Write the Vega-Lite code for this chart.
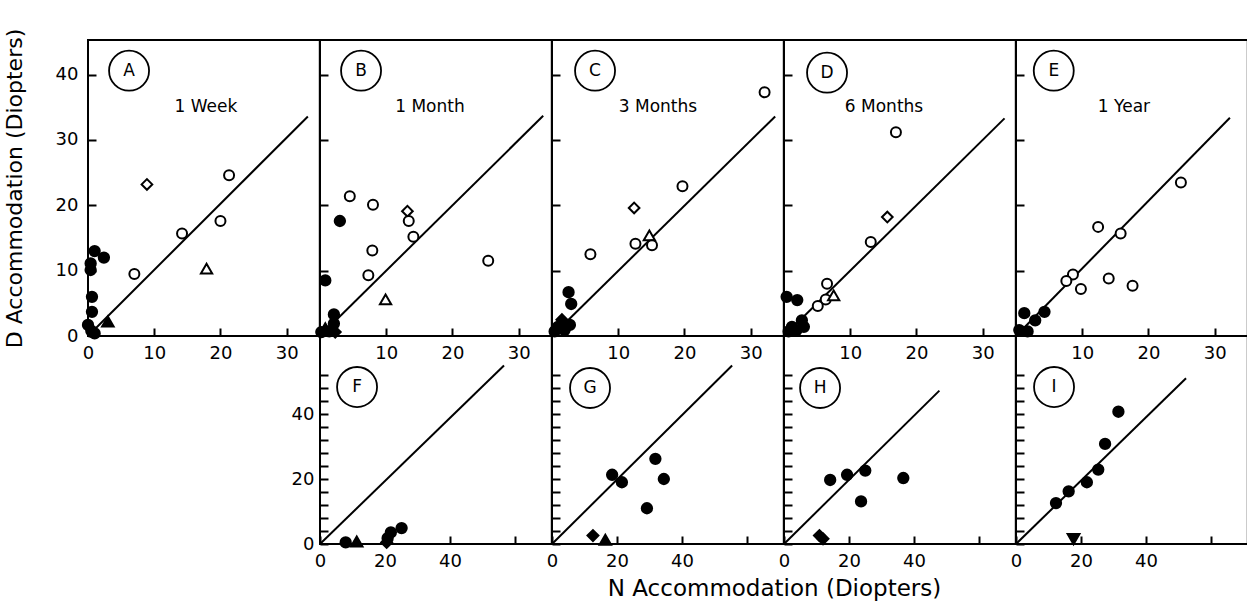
{
  "$schema": "https://vega.github.io/schema/vega-lite/v6.json",
  "background": "white",
  "padding": {"left": 1, "top": 27, "right": 0, "bottom": 0},
  "datasets": {
    "all": [
      {"panel":"A","kind":"line","n":0,"d":0},{"panel":"A","kind":"line","n":33.2,"d":33.6},
      {"panel":"A","kind":"letter","text":"A","n":6.2,"d":40.6},{"panel":"A","kind":"title","text":"1 Week","n":17.8,"d":35.0},
      {"panel":"A","kind":"point","sym":"open diamond","n":8.9,"d":23.2},
      {"panel":"A","kind":"point","sym":"open circle","n":21.3,"d":24.6},
      {"panel":"A","kind":"point","sym":"open circle","n":20.0,"d":17.6},
      {"panel":"A","kind":"point","sym":"open circle","n":14.2,"d":15.7},
      {"panel":"A","kind":"point","sym":"open circle","n":7.0,"d":9.5},
      {"panel":"A","kind":"point","sym":"open triangle","n":17.9,"d":10.3},
      {"panel":"A","kind":"point","sym":"filled triangle","n":3.0,"d":2.2},
      {"panel":"A","kind":"point","sym":"filled circle","n":1.0,"d":13.0},
      {"panel":"A","kind":"point","sym":"filled circle","n":2.4,"d":12.0},
      {"panel":"A","kind":"point","sym":"filled circle","n":0.4,"d":11.1},
      {"panel":"A","kind":"point","sym":"filled circle","n":0.4,"d":10.1},
      {"panel":"A","kind":"point","sym":"filled circle","n":0.6,"d":6.0},
      {"panel":"A","kind":"point","sym":"filled circle","n":0.6,"d":3.7},
      {"panel":"A","kind":"point","sym":"filled circle","n":0.0,"d":1.7},
      {"panel":"A","kind":"point","sym":"filled circle","n":0.5,"d":0.8},
      {"panel":"A","kind":"point","sym":"filled circle","n":1.0,"d":0.4},

      {"panel":"B","kind":"line","n":0,"d":0},{"panel":"B","kind":"line","n":33.7,"d":33.7},
      {"panel":"B","kind":"letter","text":"B","n":6.2,"d":40.6},{"panel":"B","kind":"title","text":"1 Month","n":16.6,"d":35.0},
      {"panel":"B","kind":"point","sym":"open circle","n":4.5,"d":21.4},
      {"panel":"B","kind":"point","sym":"open circle","n":8.0,"d":20.1},
      {"panel":"B","kind":"point","sym":"filled circle","n":3.0,"d":17.6},
      {"panel":"B","kind":"point","sym":"open diamond","n":13.2,"d":19.1},
      {"panel":"B","kind":"point","sym":"open circle","n":13.4,"d":17.6},
      {"panel":"B","kind":"point","sym":"open circle","n":14.1,"d":15.2},
      {"panel":"B","kind":"point","sym":"open circle","n":7.9,"d":13.1},
      {"panel":"B","kind":"point","sym":"open circle","n":7.3,"d":9.3},
      {"panel":"B","kind":"point","sym":"open circle","n":25.4,"d":11.5},
      {"panel":"B","kind":"point","sym":"open triangle","n":9.9,"d":5.6},
      {"panel":"B","kind":"point","sym":"filled circle","n":0.8,"d":8.5},
      {"panel":"B","kind":"point","sym":"filled circle","n":2.1,"d":3.3},
      {"panel":"B","kind":"point","sym":"filled circle","n":2.1,"d":1.9},
      {"panel":"B","kind":"point","sym":"filled circle","n":1.4,"d":0.7},
      {"panel":"B","kind":"point","sym":"filled circle","n":0.2,"d":0.6},
      {"panel":"B","kind":"point","sym":"filled triangle","n":0.8,"d":1.2},
      {"panel":"B","kind":"point","sym":"filled diamond","n":2.3,"d":0.6},

      {"panel":"C","kind":"line","n":0,"d":0},{"panel":"C","kind":"line","n":33.7,"d":33.6},
      {"panel":"C","kind":"letter","text":"C","n":6.5,"d":40.6},{"panel":"C","kind":"title","text":"3 Months","n":16.0,"d":35.0},
      {"panel":"C","kind":"point","sym":"open circle","n":32.1,"d":37.3},
      {"panel":"C","kind":"point","sym":"open circle","n":19.7,"d":22.9},
      {"panel":"C","kind":"point","sym":"open diamond","n":12.4,"d":19.6},
      {"panel":"C","kind":"point","sym":"open triangle","n":14.7,"d":15.4},
      {"panel":"C","kind":"point","sym":"open circle","n":12.6,"d":14.1},
      {"panel":"C","kind":"point","sym":"open circle","n":15.1,"d":13.9},
      {"panel":"C","kind":"point","sym":"open circle","n":5.8,"d":12.5},
      {"panel":"C","kind":"point","sym":"filled circle","n":2.5,"d":6.7},
      {"panel":"C","kind":"point","sym":"filled circle","n":2.9,"d":4.9},
      {"panel":"C","kind":"point","sym":"filled diamond","n":1.5,"d":2.5},
      {"panel":"C","kind":"point","sym":"filled circle","n":2.7,"d":1.7},
      {"panel":"C","kind":"point","sym":"filled circle","n":0.9,"d":1.4},
      {"panel":"C","kind":"point","sym":"filled circle","n":0.4,"d":0.7},
      {"panel":"C","kind":"point","sym":"filled circle","n":1.9,"d":0.9},

      {"panel":"D","kind":"line","n":0,"d":0},{"panel":"D","kind":"line","n":33.3,"d":33.3},
      {"panel":"D","kind":"letter","text":"D","n":6.5,"d":40.3},{"panel":"D","kind":"title","text":"6 Months","n":15.1,"d":35.0},
      {"panel":"D","kind":"point","sym":"open circle","n":16.9,"d":31.2},
      {"panel":"D","kind":"point","sym":"open diamond","n":15.6,"d":18.2},
      {"panel":"D","kind":"point","sym":"open circle","n":13.1,"d":14.4},
      {"panel":"D","kind":"point","sym":"open circle","n":6.5,"d":8.0},
      {"panel":"D","kind":"point","sym":"open circle","n":6.3,"d":5.6},
      {"panel":"D","kind":"point","sym":"open triangle","n":7.5,"d":6.2},
      {"panel":"D","kind":"point","sym":"open circle","n":5.1,"d":4.6},
      {"panel":"D","kind":"point","sym":"filled circle","n":0.4,"d":6.0},
      {"panel":"D","kind":"point","sym":"filled circle","n":2.0,"d":5.5},
      {"panel":"D","kind":"point","sym":"filled circle","n":2.7,"d":2.4},
      {"panel":"D","kind":"point","sym":"filled circle","n":3.0,"d":1.4},
      {"panel":"D","kind":"point","sym":"filled circle","n":1.2,"d":1.4},
      {"panel":"D","kind":"point","sym":"filled circle","n":0.7,"d":0.7},
      {"panel":"D","kind":"point","sym":"filled circle","n":1.9,"d":0.9},

      {"panel":"E","kind":"line","n":0,"d":0},{"panel":"E","kind":"line","n":32.3,"d":33.4},
      {"panel":"E","kind":"letter","text":"E","n":5.7,"d":40.6},{"panel":"E","kind":"title","text":"1 Year","n":16.3,"d":35.0},
      {"panel":"E","kind":"point","sym":"open circle","n":24.9,"d":23.5},
      {"panel":"E","kind":"point","sym":"open circle","n":12.4,"d":16.7},
      {"panel":"E","kind":"point","sym":"open circle","n":15.8,"d":15.7},
      {"panel":"E","kind":"point","sym":"open circle","n":8.6,"d":9.4},
      {"panel":"E","kind":"point","sym":"open circle","n":7.6,"d":8.4},
      {"panel":"E","kind":"point","sym":"open circle","n":9.8,"d":7.2},
      {"panel":"E","kind":"point","sym":"open circle","n":14.0,"d":8.8},
      {"panel":"E","kind":"point","sym":"open circle","n":17.6,"d":7.7},
      {"panel":"E","kind":"point","sym":"filled circle","n":1.25,"d":3.5},
      {"panel":"E","kind":"point","sym":"filled circle","n":4.3,"d":3.7},
      {"panel":"E","kind":"point","sym":"filled circle","n":2.9,"d":2.4},
      {"panel":"E","kind":"point","sym":"filled circle","n":0.5,"d":0.9},
      {"panel":"E","kind":"point","sym":"filled circle","n":1.75,"d":0.7},

      {"panel":"F","kind":"line","n":0,"d":0},{"panel":"F","kind":"line","n":56.6,"d":54.9},
      {"panel":"F","kind":"letter","text":"F","n":11.4,"d":48.3},
      {"panel":"F","kind":"point","sym":"filled circle","n":7.9,"d":0.5},
      {"panel":"F","kind":"point","sym":"filled triangle","n":11.3,"d":0.8},
      {"panel":"F","kind":"point","sym":"filled circle","n":21.8,"d":3.6},
      {"panel":"F","kind":"point","sym":"filled circle","n":25.1,"d":4.9},
      {"panel":"F","kind":"point","sym":"filled diamond","n":20.5,"d":0.5},
      {"panel":"F","kind":"point","sym":"filled circle","n":20.8,"d":1.8},

      {"panel":"G","kind":"line","n":0,"d":0},{"panel":"G","kind":"line","n":55.4,"d":54.9},
      {"panel":"G","kind":"letter","text":"G","n":11.7,"d":48.0},
      {"panel":"G","kind":"point","sym":"filled circle","n":18.5,"d":21.3},
      {"panel":"G","kind":"point","sym":"filled circle","n":21.5,"d":19.0},
      {"panel":"G","kind":"point","sym":"filled circle","n":31.8,"d":26.2},
      {"panel":"G","kind":"point","sym":"filled circle","n":34.4,"d":20.0},
      {"panel":"G","kind":"point","sym":"filled circle","n":29.2,"d":11.0},
      {"panel":"G","kind":"point","sym":"filled diamond","n":12.6,"d":2.6},
      {"panel":"G","kind":"point","sym":"filled triangle","n":16.4,"d":1.3},

      {"panel":"H","kind":"line","n":0,"d":0},{"panel":"H","kind":"line","n":47.8,"d":47.2},
      {"panel":"H","kind":"letter","text":"H","n":11.1,"d":48.0},
      {"panel":"H","kind":"point","sym":"filled circle","n":14.2,"d":19.7},
      {"panel":"H","kind":"point","sym":"filled circle","n":19.4,"d":21.3},
      {"panel":"H","kind":"point","sym":"filled circle","n":25.0,"d":22.6},
      {"panel":"H","kind":"point","sym":"filled circle","n":36.7,"d":20.3},
      {"panel":"H","kind":"point","sym":"filled circle","n":23.7,"d":13.1},
      {"panel":"H","kind":"point","sym":"filled diamond","n":10.9,"d":2.6},
      {"panel":"H","kind":"point","sym":"filled diamond","n":12.0,"d":1.6},

      {"panel":"I","kind":"line","n":0,"d":0},{"panel":"I","kind":"line","n":52.3,"d":51.0},
      {"panel":"I","kind":"letter","text":"I","n":11.7,"d":48.3},
      {"panel":"I","kind":"point","sym":"filled circle","n":12.3,"d":12.6},
      {"panel":"I","kind":"point","sym":"filled circle","n":16.2,"d":16.2},
      {"panel":"I","kind":"point","sym":"filled circle","n":21.8,"d":19.0},
      {"panel":"I","kind":"point","sym":"filled circle","n":25.3,"d":22.9},
      {"panel":"I","kind":"point","sym":"filled circle","n":27.4,"d":30.8},
      {"panel":"I","kind":"point","sym":"filled circle","n":31.5,"d":40.7},
      {"panel":"I","kind":"point","sym":"filled inverted triangle","n":17.7,"d":1.5}
    ]
  },
  "columns": 5,
  "spacing": 0,
  "bounds": "flush",
  "align": "each",
  "concat": [
    {
      "width": 231.8, "height": 296,
      "data": {"name": "all"},
      "transform": [{"filter": "datum.panel === 'A'"}],
      "encoding": {
        "x": {"field": "n", "type": "quantitative", "scale": {"domain": [0, 35], "nice": false, "zero": false}, "axis": {"values": [0, 10, 20, 30], "labelPadding": 16, "title": null}},
        "y": {"field": "d", "type": "quantitative", "scale": {"domain": [0, 45.3], "nice": false, "zero": false}, "axis": {"values": [0, 10, 20, 30, 40], "labelPadding": 18, "title": "D Accommodation (Diopters)", "titleFontSize": 22, "titleX": -62}}
      },
      "layer": [
        {"transform": [{"filter": "datum.kind === 'line'"}], "mark": {"type": "line", "color": "black", "strokeWidth": 2}, "encoding": {}},
        {"transform": [{"filter": "datum.kind === 'point'"}], "mark": {"type": "point", "filled": true, "opacity": 1, "stroke": "black", "strokeWidth": 2},
         "encoding": {
           "shape": {"field": "sym", "type": "nominal", "legend": null, "scale": {"domain": ["open circle","filled circle","open diamond","filled diamond","open triangle","filled triangle","filled inverted triangle"], "range": ["circle","circle","diamond","diamond","triangle-up","triangle-up","triangle-down"]}},
           "fill": {"field": "sym", "type": "nominal", "legend": null, "scale": {"domain": ["open circle","filled circle","open diamond","filled diamond","open triangle","filled triangle","filled inverted triangle"], "range": ["white","black","white","black","white","black","black"]}},
           "size": {"field": "sym", "type": "nominal", "legend": null, "scale": {"domain": ["open circle","filled circle","open diamond","filled diamond","open triangle","filled triangle","filled inverted triangle"], "range": [100,140,120,160,120,160,170]}}
         }},
        {"transform": [{"filter": "datum.kind === 'letter'"}], "mark": {"type": "point", "shape": "circle", "size": 1600, "filled": false, "opacity": 1, "stroke": "black", "strokeWidth": 1.8}, "encoding": {}},
        {"transform": [{"filter": "datum.kind === 'letter' || datum.kind === 'title'"}], "mark": {"type": "text", "font": "DejaVu Sans", "fontSize": 17, "color": "black", "align": "center", "baseline": "middle"}, "encoding": {"text": {"field": "text"}}}
      ]
    },
    {
      "width": 231.8, "height": 296,
      "data": {"name": "all"},
      "transform": [{"filter": "datum.panel === 'B'"}],
      "encoding": {
        "x": {"field": "n", "type": "quantitative", "scale": {"domain": [0, 35], "nice": false, "zero": false}, "axis": {"values": [10, 20, 30], "labelPadding": 16, "title": null}},
        "y": {"field": "d", "type": "quantitative", "scale": {"domain": [0, 45.3], "nice": false, "zero": false}, "axis": {"values": [10, 20, 30, 40], "labels": false, "title": null}}
      },
      "layer": [
        {"transform": [{"filter": "datum.kind === 'line'"}], "mark": {"type": "line", "color": "black", "strokeWidth": 2}, "encoding": {}},
        {"transform": [{"filter": "datum.kind === 'point'"}], "mark": {"type": "point", "filled": true, "opacity": 1, "stroke": "black", "strokeWidth": 2},
         "encoding": {
           "shape": {"field": "sym", "type": "nominal", "legend": null, "scale": {"domain": ["open circle","filled circle","open diamond","filled diamond","open triangle","filled triangle","filled inverted triangle"], "range": ["circle","circle","diamond","diamond","triangle-up","triangle-up","triangle-down"]}},
           "fill": {"field": "sym", "type": "nominal", "legend": null, "scale": {"domain": ["open circle","filled circle","open diamond","filled diamond","open triangle","filled triangle","filled inverted triangle"], "range": ["white","black","white","black","white","black","black"]}},
           "size": {"field": "sym", "type": "nominal", "legend": null, "scale": {"domain": ["open circle","filled circle","open diamond","filled diamond","open triangle","filled triangle","filled inverted triangle"], "range": [100,140,120,160,120,160,170]}}
         }},
        {"transform": [{"filter": "datum.kind === 'letter'"}], "mark": {"type": "point", "shape": "circle", "size": 1600, "filled": false, "opacity": 1, "stroke": "black", "strokeWidth": 1.8}, "encoding": {}},
        {"transform": [{"filter": "datum.kind === 'letter' || datum.kind === 'title'"}], "mark": {"type": "text", "font": "DejaVu Sans", "fontSize": 17, "color": "black", "align": "center", "baseline": "middle"}, "encoding": {"text": {"field": "text"}}}
      ]
    },
    {
      "width": 231.8, "height": 296,
      "data": {"name": "all"},
      "transform": [{"filter": "datum.panel === 'C'"}],
      "encoding": {
        "x": {"field": "n", "type": "quantitative", "scale": {"domain": [0, 35], "nice": false, "zero": false}, "axis": {"values": [10, 20, 30], "labelPadding": 16, "title": null}},
        "y": {"field": "d", "type": "quantitative", "scale": {"domain": [0, 45.3], "nice": false, "zero": false}, "axis": {"values": [10, 20, 30, 40], "labels": false, "title": null}}
      },
      "layer": [
        {"transform": [{"filter": "datum.kind === 'line'"}], "mark": {"type": "line", "color": "black", "strokeWidth": 2}, "encoding": {}},
        {"transform": [{"filter": "datum.kind === 'point'"}], "mark": {"type": "point", "filled": true, "opacity": 1, "stroke": "black", "strokeWidth": 2},
         "encoding": {
           "shape": {"field": "sym", "type": "nominal", "legend": null, "scale": {"domain": ["open circle","filled circle","open diamond","filled diamond","open triangle","filled triangle","filled inverted triangle"], "range": ["circle","circle","diamond","diamond","triangle-up","triangle-up","triangle-down"]}},
           "fill": {"field": "sym", "type": "nominal", "legend": null, "scale": {"domain": ["open circle","filled circle","open diamond","filled diamond","open triangle","filled triangle","filled inverted triangle"], "range": ["white","black","white","black","white","black","black"]}},
           "size": {"field": "sym", "type": "nominal", "legend": null, "scale": {"domain": ["open circle","filled circle","open diamond","filled diamond","open triangle","filled triangle","filled inverted triangle"], "range": [100,140,120,160,120,160,170]}}
         }},
        {"transform": [{"filter": "datum.kind === 'letter'"}], "mark": {"type": "point", "shape": "circle", "size": 1600, "filled": false, "opacity": 1, "stroke": "black", "strokeWidth": 1.8}, "encoding": {}},
        {"transform": [{"filter": "datum.kind === 'letter' || datum.kind === 'title'"}], "mark": {"type": "text", "font": "DejaVu Sans", "fontSize": 17, "color": "black", "align": "center", "baseline": "middle"}, "encoding": {"text": {"field": "text"}}}
      ]
    },
    {
      "width": 231.8, "height": 296,
      "data": {"name": "all"},
      "transform": [{"filter": "datum.panel === 'D'"}],
      "encoding": {
        "x": {"field": "n", "type": "quantitative", "scale": {"domain": [0, 35], "nice": false, "zero": false}, "axis": {"values": [10, 20, 30], "labelPadding": 16, "title": null}},
        "y": {"field": "d", "type": "quantitative", "scale": {"domain": [0, 45.3], "nice": false, "zero": false}, "axis": {"values": [10, 20, 30, 40], "labels": false, "title": null}}
      },
      "layer": [
        {"transform": [{"filter": "datum.kind === 'line'"}], "mark": {"type": "line", "color": "black", "strokeWidth": 2}, "encoding": {}},
        {"transform": [{"filter": "datum.kind === 'point'"}], "mark": {"type": "point", "filled": true, "opacity": 1, "stroke": "black", "strokeWidth": 2},
         "encoding": {
           "shape": {"field": "sym", "type": "nominal", "legend": null, "scale": {"domain": ["open circle","filled circle","open diamond","filled diamond","open triangle","filled triangle","filled inverted triangle"], "range": ["circle","circle","diamond","diamond","triangle-up","triangle-up","triangle-down"]}},
           "fill": {"field": "sym", "type": "nominal", "legend": null, "scale": {"domain": ["open circle","filled circle","open diamond","filled diamond","open triangle","filled triangle","filled inverted triangle"], "range": ["white","black","white","black","white","black","black"]}},
           "size": {"field": "sym", "type": "nominal", "legend": null, "scale": {"domain": ["open circle","filled circle","open diamond","filled diamond","open triangle","filled triangle","filled inverted triangle"], "range": [100,140,120,160,120,160,170]}}
         }},
        {"transform": [{"filter": "datum.kind === 'letter'"}], "mark": {"type": "point", "shape": "circle", "size": 1600, "filled": false, "opacity": 1, "stroke": "black", "strokeWidth": 1.8}, "encoding": {}},
        {"transform": [{"filter": "datum.kind === 'letter' || datum.kind === 'title'"}], "mark": {"type": "text", "font": "DejaVu Sans", "fontSize": 17, "color": "black", "align": "center", "baseline": "middle"}, "encoding": {"text": {"field": "text"}}}
      ]
    },
    {
      "width": 231.8, "height": 296,
      "data": {"name": "all"},
      "transform": [{"filter": "datum.panel === 'E'"}],
      "encoding": {
        "x": {"field": "n", "type": "quantitative", "scale": {"domain": [0, 35], "nice": false, "zero": false}, "axis": {"values": [10, 20, 30], "labelPadding": 16, "title": null}},
        "y": {"field": "d", "type": "quantitative", "scale": {"domain": [0, 45.3], "nice": false, "zero": false}, "axis": {"values": [10, 20, 30, 40], "labels": false, "title": null}}
      },
      "layer": [
        {"transform": [{"filter": "datum.kind === 'line'"}], "mark": {"type": "line", "color": "black", "strokeWidth": 2}, "encoding": {}},
        {"transform": [{"filter": "datum.kind === 'point'"}], "mark": {"type": "point", "filled": true, "opacity": 1, "stroke": "black", "strokeWidth": 2},
         "encoding": {
           "shape": {"field": "sym", "type": "nominal", "legend": null, "scale": {"domain": ["open circle","filled circle","open diamond","filled diamond","open triangle","filled triangle","filled inverted triangle"], "range": ["circle","circle","diamond","diamond","triangle-up","triangle-up","triangle-down"]}},
           "fill": {"field": "sym", "type": "nominal", "legend": null, "scale": {"domain": ["open circle","filled circle","open diamond","filled diamond","open triangle","filled triangle","filled inverted triangle"], "range": ["white","black","white","black","white","black","black"]}},
           "size": {"field": "sym", "type": "nominal", "legend": null, "scale": {"domain": ["open circle","filled circle","open diamond","filled diamond","open triangle","filled triangle","filled inverted triangle"], "range": [100,140,120,160,120,160,170]}}
         }},
        {"transform": [{"filter": "datum.kind === 'letter'"}], "mark": {"type": "point", "shape": "circle", "size": 1600, "filled": false, "opacity": 1, "stroke": "black", "strokeWidth": 1.8}, "encoding": {}},
        {"transform": [{"filter": "datum.kind === 'letter' || datum.kind === 'title'"}], "mark": {"type": "text", "font": "DejaVu Sans", "fontSize": 17, "color": "black", "align": "center", "baseline": "middle"}, "encoding": {"text": {"field": "text"}}}
      ]
    },
    {
      "width": 231.8, "height": 208,
      "view": {"stroke": null},
      "data": {"name": "all"},
      "transform": [{"filter": "false"}],
      "mark": "point"
    },
    {
      "width": 231.8, "height": 208,
      "data": {"name": "all"},
      "transform": [{"filter": "datum.panel === 'F'"}],
      "encoding": {
        "x": {"field": "n", "type": "quantitative", "scale": {"domain": [0, 71.3], "nice": false, "zero": false}, "axis": {"values": [0, 20, 40, 60], "labelExpr": "datum.value === 60 ? '' : datum.label", "labelPadding": 16, "title": null}},
        "y": {"field": "d", "type": "quantitative", "scale": {"domain": [0, 64], "nice": false, "zero": false}, "axis": {"values": [0,4,8,12,16,20,24,28,32,36,40,44,48,52], "labelExpr": "datum.value % 20 === 0 ? datum.label : ''", "labelPadding": 14, "title": null}}
      },
      "layer": [
        {"transform": [{"filter": "datum.kind === 'line'"}], "mark": {"type": "line", "color": "black", "strokeWidth": 2}, "encoding": {}},
        {"transform": [{"filter": "datum.kind === 'point'"}], "mark": {"type": "point", "filled": true, "opacity": 1, "stroke": "black", "strokeWidth": 2},
         "encoding": {
           "shape": {"field": "sym", "type": "nominal", "legend": null, "scale": {"domain": ["open circle","filled circle","open diamond","filled diamond","open triangle","filled triangle","filled inverted triangle"], "range": ["circle","circle","diamond","diamond","triangle-up","triangle-up","triangle-down"]}},
           "fill": {"field": "sym", "type": "nominal", "legend": null, "scale": {"domain": ["open circle","filled circle","open diamond","filled diamond","open triangle","filled triangle","filled inverted triangle"], "range": ["white","black","white","black","white","black","black"]}},
           "size": {"field": "sym", "type": "nominal", "legend": null, "scale": {"domain": ["open circle","filled circle","open diamond","filled diamond","open triangle","filled triangle","filled inverted triangle"], "range": [100,140,120,160,120,160,170]}}
         }},
        {"transform": [{"filter": "datum.kind === 'letter'"}], "mark": {"type": "point", "shape": "circle", "size": 1600, "filled": false, "opacity": 1, "stroke": "black", "strokeWidth": 1.8}, "encoding": {}},
        {"transform": [{"filter": "datum.kind === 'letter' || datum.kind === 'title'"}], "mark": {"type": "text", "font": "DejaVu Sans", "fontSize": 17, "color": "black", "align": "center", "baseline": "middle"}, "encoding": {"text": {"field": "text"}}}
      ]
    },
    {
      "width": 231.8, "height": 208,
      "data": {"name": "all"},
      "transform": [{"filter": "datum.panel === 'G'"}],
      "encoding": {
        "x": {"field": "n", "type": "quantitative", "scale": {"domain": [0, 71.3], "nice": false, "zero": false}, "axis": {"values": [0, 20, 40, 60], "labelExpr": "datum.value === 60 ? '' : datum.label", "labelPadding": 16, "title": "N Accommodation (Diopters)", "titleFontSize": 23, "titleX": 222, "titleY": 33, "titleBaseline": "top"}},
        "y": {"field": "d", "type": "quantitative", "scale": {"domain": [0, 64], "nice": false, "zero": false}, "axis": {"values": [0,4,8,12,16,20,24,28,32,36,40,44,48,52], "labels": false, "title": null}}
      },
      "layer": [
        {"transform": [{"filter": "datum.kind === 'line'"}], "mark": {"type": "line", "color": "black", "strokeWidth": 2}, "encoding": {}},
        {"transform": [{"filter": "datum.kind === 'point'"}], "mark": {"type": "point", "filled": true, "opacity": 1, "stroke": "black", "strokeWidth": 2},
         "encoding": {
           "shape": {"field": "sym", "type": "nominal", "legend": null, "scale": {"domain": ["open circle","filled circle","open diamond","filled diamond","open triangle","filled triangle","filled inverted triangle"], "range": ["circle","circle","diamond","diamond","triangle-up","triangle-up","triangle-down"]}},
           "fill": {"field": "sym", "type": "nominal", "legend": null, "scale": {"domain": ["open circle","filled circle","open diamond","filled diamond","open triangle","filled triangle","filled inverted triangle"], "range": ["white","black","white","black","white","black","black"]}},
           "size": {"field": "sym", "type": "nominal", "legend": null, "scale": {"domain": ["open circle","filled circle","open diamond","filled diamond","open triangle","filled triangle","filled inverted triangle"], "range": [100,140,120,160,120,160,170]}}
         }},
        {"transform": [{"filter": "datum.kind === 'letter'"}], "mark": {"type": "point", "shape": "circle", "size": 1600, "filled": false, "opacity": 1, "stroke": "black", "strokeWidth": 1.8}, "encoding": {}},
        {"transform": [{"filter": "datum.kind === 'letter' || datum.kind === 'title'"}], "mark": {"type": "text", "font": "DejaVu Sans", "fontSize": 17, "color": "black", "align": "center", "baseline": "middle"}, "encoding": {"text": {"field": "text"}}}
      ]
    },
    {
      "width": 231.8, "height": 208,
      "data": {"name": "all"},
      "transform": [{"filter": "datum.panel === 'H'"}],
      "encoding": {
        "x": {"field": "n", "type": "quantitative", "scale": {"domain": [0, 71.3], "nice": false, "zero": false}, "axis": {"values": [0, 20, 40, 60], "labelExpr": "datum.value === 60 ? '' : datum.label", "labelPadding": 16, "title": null}},
        "y": {"field": "d", "type": "quantitative", "scale": {"domain": [0, 64], "nice": false, "zero": false}, "axis": {"values": [0,4,8,12,16,20,24,28,32,36,40,44,48,52], "labels": false, "title": null}}
      },
      "layer": [
        {"transform": [{"filter": "datum.kind === 'line'"}], "mark": {"type": "line", "color": "black", "strokeWidth": 2}, "encoding": {}},
        {"transform": [{"filter": "datum.kind === 'point'"}], "mark": {"type": "point", "filled": true, "opacity": 1, "stroke": "black", "strokeWidth": 2},
         "encoding": {
           "shape": {"field": "sym", "type": "nominal", "legend": null, "scale": {"domain": ["open circle","filled circle","open diamond","filled diamond","open triangle","filled triangle","filled inverted triangle"], "range": ["circle","circle","diamond","diamond","triangle-up","triangle-up","triangle-down"]}},
           "fill": {"field": "sym", "type": "nominal", "legend": null, "scale": {"domain": ["open circle","filled circle","open diamond","filled diamond","open triangle","filled triangle","filled inverted triangle"], "range": ["white","black","white","black","white","black","black"]}},
           "size": {"field": "sym", "type": "nominal", "legend": null, "scale": {"domain": ["open circle","filled circle","open diamond","filled diamond","open triangle","filled triangle","filled inverted triangle"], "range": [100,140,120,160,120,160,170]}}
         }},
        {"transform": [{"filter": "datum.kind === 'letter'"}], "mark": {"type": "point", "shape": "circle", "size": 1600, "filled": false, "opacity": 1, "stroke": "black", "strokeWidth": 1.8}, "encoding": {}},
        {"transform": [{"filter": "datum.kind === 'letter' || datum.kind === 'title'"}], "mark": {"type": "text", "font": "DejaVu Sans", "fontSize": 17, "color": "black", "align": "center", "baseline": "middle"}, "encoding": {"text": {"field": "text"}}}
      ]
    },
    {
      "width": 231.8, "height": 208,
      "data": {"name": "all"},
      "transform": [{"filter": "datum.panel === 'I'"}],
      "encoding": {
        "x": {"field": "n", "type": "quantitative", "scale": {"domain": [0, 71.3], "nice": false, "zero": false}, "axis": {"values": [0, 20, 40, 60], "labelExpr": "datum.value === 60 ? '' : datum.label", "labelPadding": 16, "title": null}},
        "y": {"field": "d", "type": "quantitative", "scale": {"domain": [0, 64], "nice": false, "zero": false}, "axis": {"values": [0,4,8,12,16,20,24,28,32,36,40,44,48,52], "labels": false, "title": null}}
      },
      "layer": [
        {"transform": [{"filter": "datum.kind === 'line'"}], "mark": {"type": "line", "color": "black", "strokeWidth": 2}, "encoding": {}},
        {"transform": [{"filter": "datum.kind === 'point'"}], "mark": {"type": "point", "filled": true, "opacity": 1, "stroke": "black", "strokeWidth": 2},
         "encoding": {
           "shape": {"field": "sym", "type": "nominal", "legend": null, "scale": {"domain": ["open circle","filled circle","open diamond","filled diamond","open triangle","filled triangle","filled inverted triangle"], "range": ["circle","circle","diamond","diamond","triangle-up","triangle-up","triangle-down"]}},
           "fill": {"field": "sym", "type": "nominal", "legend": null, "scale": {"domain": ["open circle","filled circle","open diamond","filled diamond","open triangle","filled triangle","filled inverted triangle"], "range": ["white","black","white","black","white","black","black"]}},
           "size": {"field": "sym", "type": "nominal", "legend": null, "scale": {"domain": ["open circle","filled circle","open diamond","filled diamond","open triangle","filled triangle","filled inverted triangle"], "range": [100,140,120,160,120,160,170]}}
         }},
        {"transform": [{"filter": "datum.kind === 'letter'"}], "mark": {"type": "point", "shape": "circle", "size": 1600, "filled": false, "opacity": 1, "stroke": "black", "strokeWidth": 1.8}, "encoding": {}},
        {"transform": [{"filter": "datum.kind === 'letter' || datum.kind === 'title'"}], "mark": {"type": "text", "font": "DejaVu Sans", "fontSize": 17, "color": "black", "align": "center", "baseline": "middle"}, "encoding": {"text": {"field": "text"}}}
      ]
    }
  ],
  "config": {
    "axis": {"domain": false, "grid": false, "tickSize": -8, "tickWidth": 2, "tickColor": "black", "labelColor": "black", "labelFont": "DejaVu Sans", "labelFontSize": 18, "labelFlush": false, "labelOverlap": false, "titleFont": "DejaVu Sans", "titleColor": "black", "titleFontWeight": "normal"},
    "view": {"stroke": "black", "strokeWidth": 2}
  }
}
